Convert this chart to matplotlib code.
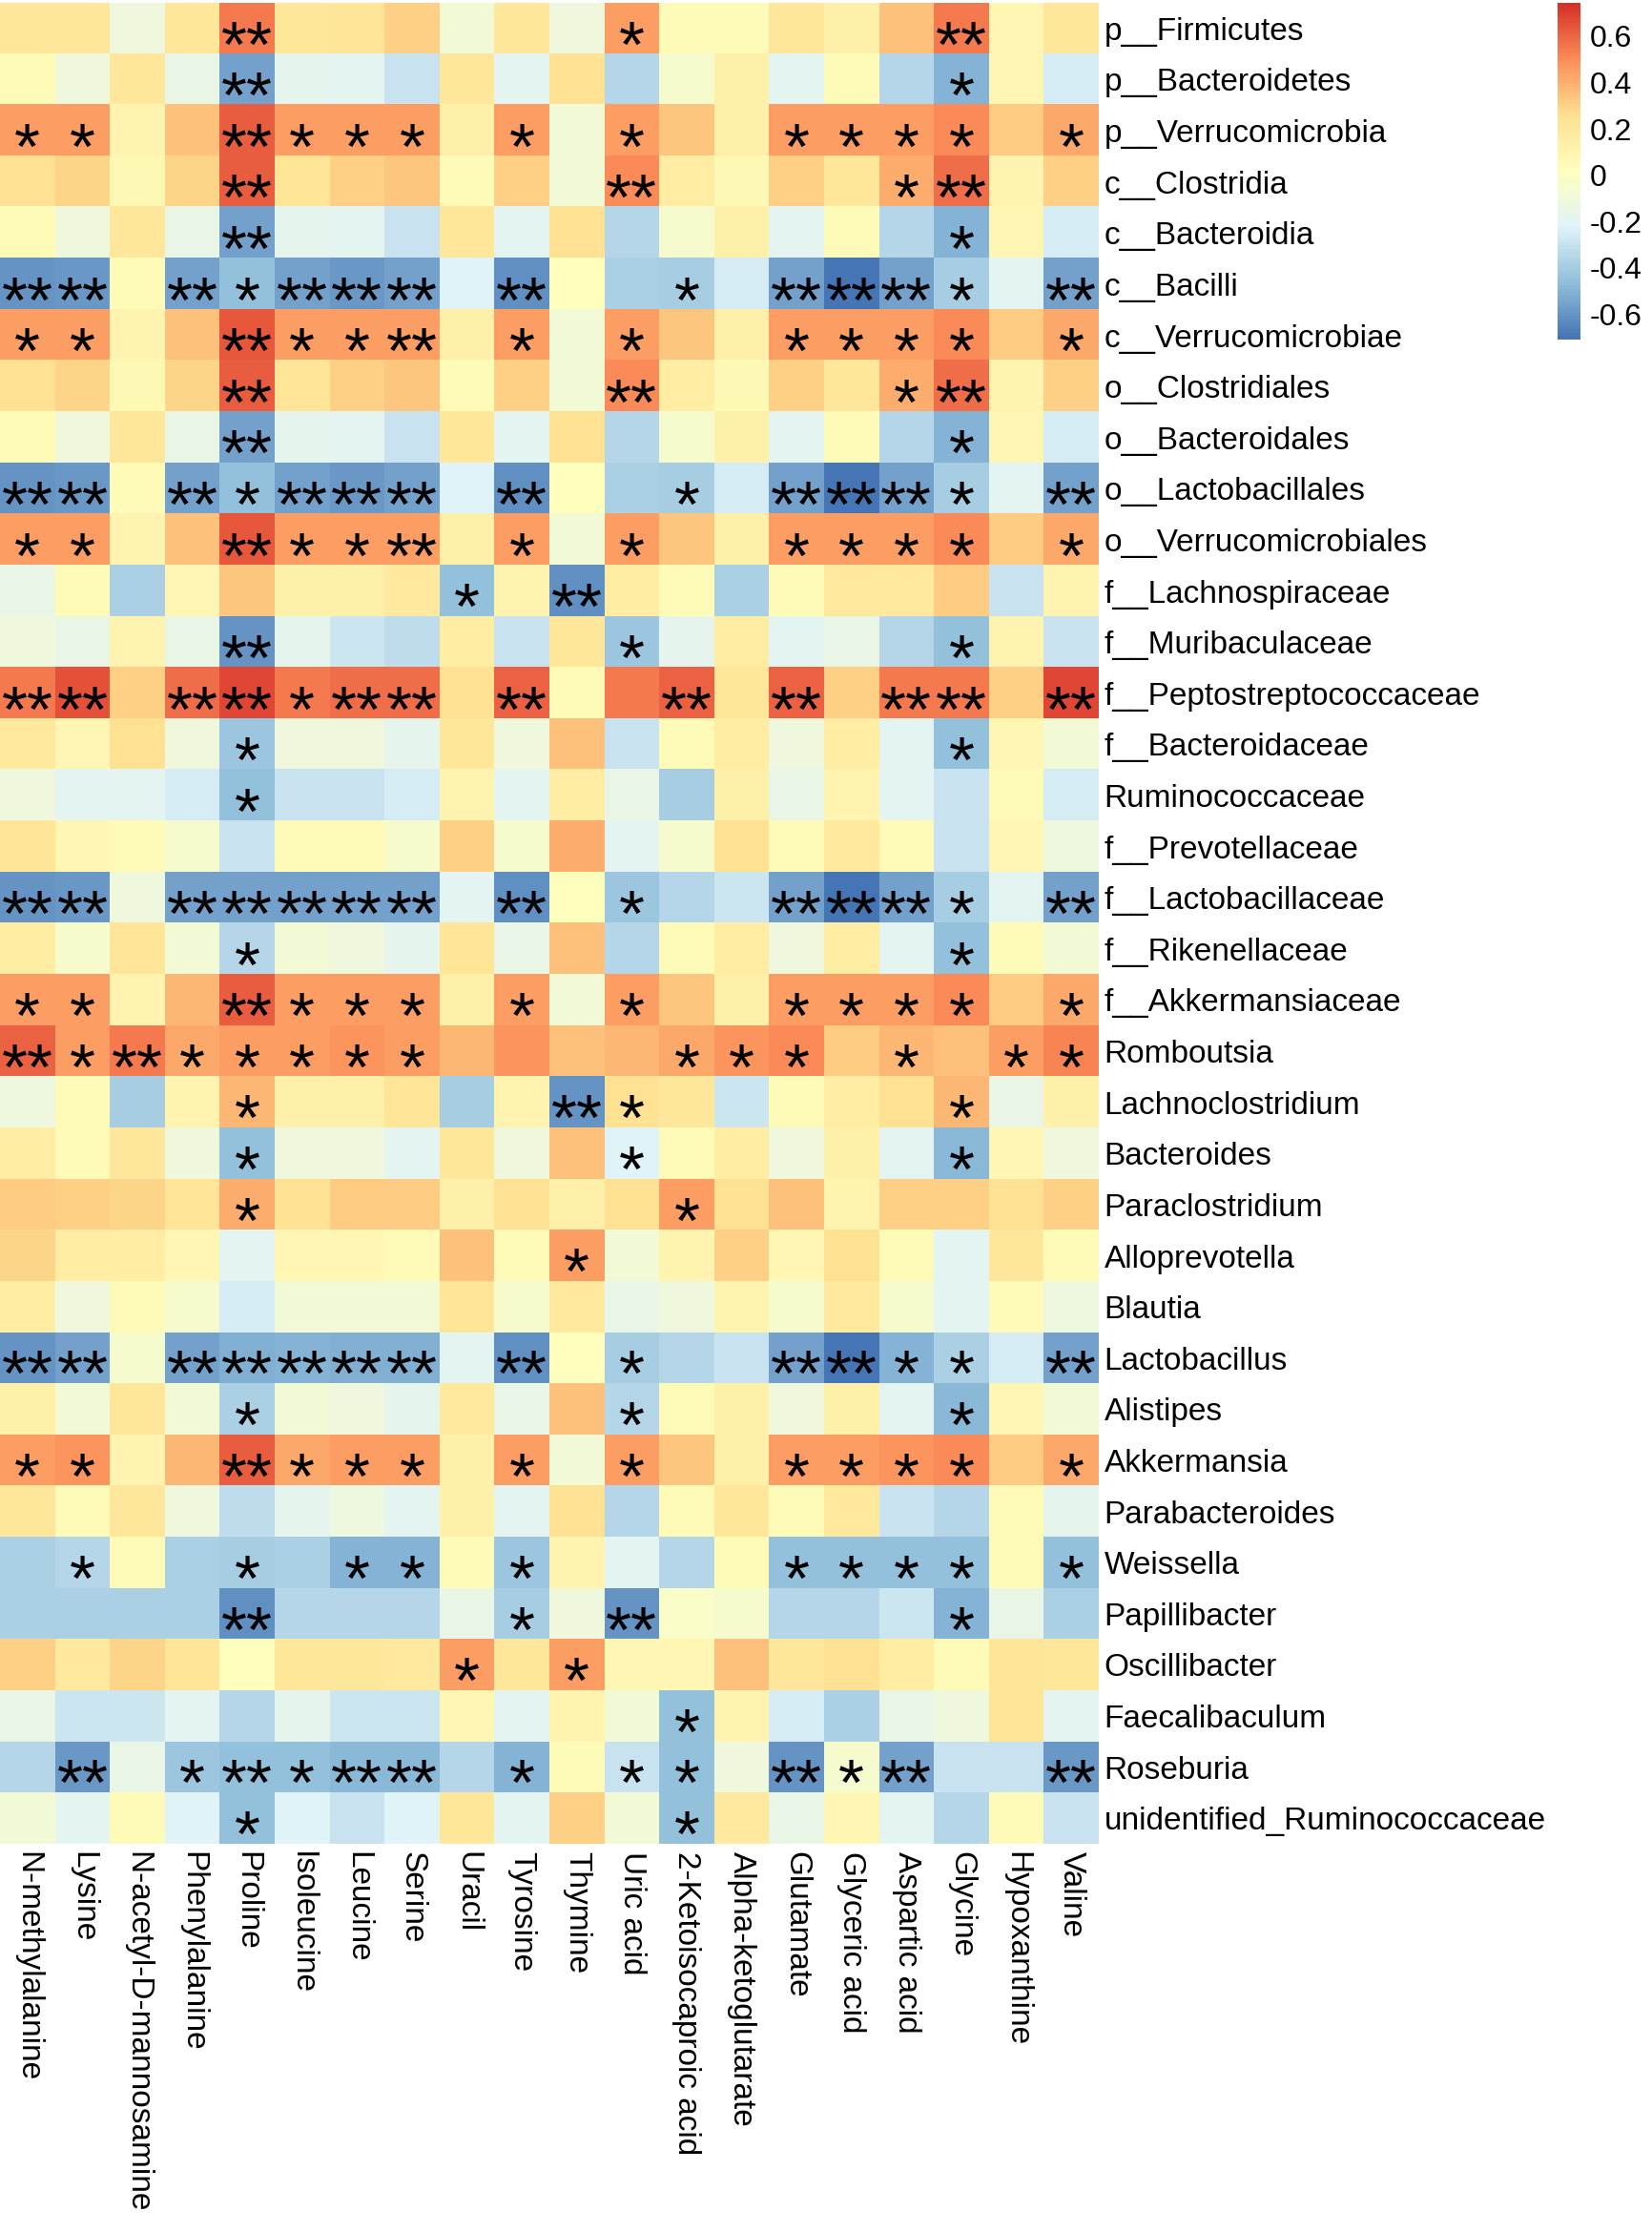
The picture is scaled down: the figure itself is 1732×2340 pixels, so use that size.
import numpy as np
import matplotlib
matplotlib.use("Agg")
import matplotlib.pyplot as plt
from matplotlib.colors import LinearSegmentedColormap
from matplotlib.transforms import offset_copy

plt.rcParams['font.family'] = ['Liberation Sans', 'DejaVu Sans']
plt.rcParams['axes.unicode_minus'] = False

taxa = [
    "p__Firmicutes", "p__Bacteroidetes", "p__Verrucomicrobia", "c__Clostridia",
    "c__Bacteroidia", "c__Bacilli", "c__Verrucomicrobiae", "o__Clostridiales",
    "o__Bacteroidales", "o__Lactobacillales", "o__Verrucomicrobiales",
    "f__Lachnospiraceae", "f__Muribaculaceae", "f__Peptostreptococcaceae",
    "f__Bacteroidaceae", "Ruminococcaceae", "f__Prevotellaceae",
    "f__Lactobacillaceae", "f__Rikenellaceae", "f__Akkermansiaceae",
    "Romboutsia", "Lachnoclostridium", "Bacteroides", "Paraclostridium",
    "Alloprevotella", "Blautia", "Lactobacillus", "Alistipes", "Akkermansia",
    "Parabacteroides", "Weissella", "Papillibacter", "Oscillibacter",
    "Faecalibaculum", "Roseburia", "unidentified_Ruminococcaceae",
]

metabolites = [
    "N-methylalanine", "Lysine", "N-acetyl-D-mannosamine", "Phenylalanine",
    "Proline", "Isoleucine", "Leucine", "Serine", "Uracil", "Tyrosine",
    "Thymine", "Uric acid", "2-Ketoisocaproic acid", "Alpha-ketoglutarate",
    "Glutamate", "Glyceric acid", "Aspartic acid", "Glycine", "Hypoxanthine",
    "Valine",
]

# spearman r, one row per taxon
corr = [
    [0.20, 0.20, -0.10, 0.20, 0.55, 0.20, 0.22, 0.30, -0.08, 0.20, -0.10, 0.45, 0.05, 0.05, 0.20, 0.12, 0.35, 0.55, 0.08, 0.20],
    [0.05, -0.10, 0.20, -0.15, -0.55, -0.18, -0.20, -0.30, 0.20, -0.20, 0.25, -0.35, -0.05, 0.12, -0.20, 0.05, -0.35, -0.50, 0.08, -0.25],
    [0.45, 0.45, 0.10, 0.35, 0.62, 0.45, 0.45, 0.45, 0.12, 0.45, -0.08, 0.45, 0.33, 0.12, 0.45, 0.45, 0.45, 0.50, 0.32, 0.42],
    [0.25, 0.28, 0.07, 0.28, 0.62, 0.22, 0.30, 0.33, 0.05, 0.30, -0.08, 0.50, 0.15, 0.07, 0.30, 0.20, 0.40, 0.58, 0.10, 0.30],
    [0.05, -0.10, 0.20, -0.15, -0.55, -0.18, -0.20, -0.30, 0.20, -0.20, 0.25, -0.35, -0.05, 0.12, -0.20, 0.05, -0.35, -0.50, 0.08, -0.25],
    [-0.60, -0.58, 0.05, -0.55, -0.45, -0.55, -0.58, -0.55, -0.22, -0.62, 0.02, -0.38, -0.40, -0.25, -0.55, -0.70, -0.55, -0.40, -0.20, -0.55],
    [0.45, 0.45, 0.10, 0.35, 0.63, 0.45, 0.45, 0.45, 0.12, 0.45, -0.08, 0.45, 0.33, 0.12, 0.45, 0.45, 0.45, 0.50, 0.32, 0.42],
    [0.25, 0.28, 0.07, 0.28, 0.62, 0.22, 0.30, 0.33, 0.05, 0.30, -0.08, 0.50, 0.15, 0.07, 0.30, 0.20, 0.40, 0.58, 0.10, 0.30],
    [0.05, -0.10, 0.20, -0.15, -0.55, -0.18, -0.20, -0.30, 0.20, -0.20, 0.25, -0.35, -0.05, 0.12, -0.20, 0.05, -0.35, -0.50, 0.08, -0.25],
    [-0.60, -0.58, 0.05, -0.55, -0.45, -0.55, -0.58, -0.55, -0.22, -0.62, 0.02, -0.38, -0.40, -0.25, -0.55, -0.70, -0.55, -0.40, -0.20, -0.55],
    [0.45, 0.45, 0.10, 0.35, 0.63, 0.45, 0.45, 0.45, 0.12, 0.45, -0.08, 0.45, 0.33, 0.12, 0.45, 0.45, 0.45, 0.50, 0.32, 0.42],
    [-0.15, 0.05, -0.38, 0.08, 0.33, 0.12, 0.12, 0.18, -0.45, 0.10, -0.62, 0.15, 0.05, -0.38, 0.05, 0.18, 0.18, 0.32, -0.30, 0.10],
    [-0.10, -0.15, 0.10, -0.15, -0.60, -0.18, -0.28, -0.32, 0.15, -0.30, 0.20, -0.42, -0.18, 0.15, -0.20, -0.15, -0.35, -0.45, 0.10, -0.30],
    [0.55, 0.65, 0.30, 0.58, 0.68, 0.55, 0.58, 0.58, 0.25, 0.60, 0.05, 0.55, 0.60, 0.20, 0.60, 0.30, 0.55, 0.55, 0.30, 0.68],
    [0.18, 0.08, 0.25, -0.10, -0.42, -0.10, -0.10, -0.18, 0.20, -0.10, 0.35, -0.30, 0.05, 0.15, -0.10, 0.15, -0.20, -0.45, 0.08, -0.08],
    [-0.10, -0.20, -0.20, -0.25, -0.45, -0.30, -0.30, -0.25, 0.10, -0.20, 0.15, -0.15, -0.40, 0.12, -0.15, 0.10, -0.20, -0.30, 0.05, -0.25],
    [0.22, 0.08, 0.05, -0.05, -0.30, 0.05, 0.05, -0.05, 0.30, -0.05, 0.40, -0.20, -0.05, 0.25, 0.05, 0.18, 0.05, -0.30, 0.08, -0.12],
    [-0.60, -0.58, -0.10, -0.55, -0.55, -0.55, -0.55, -0.55, -0.20, -0.62, 0.02, -0.42, -0.35, -0.28, -0.55, -0.70, -0.55, -0.40, -0.20, -0.55],
    [0.15, -0.05, 0.22, -0.08, -0.35, -0.08, -0.10, -0.18, 0.22, -0.15, 0.35, -0.35, 0.05, 0.15, -0.10, 0.15, -0.20, -0.45, 0.05, -0.08],
    [0.45, 0.45, 0.10, 0.38, 0.62, 0.45, 0.45, 0.45, 0.12, 0.45, -0.08, 0.45, 0.33, 0.12, 0.45, 0.45, 0.45, 0.50, 0.32, 0.42],
    [0.60, 0.45, 0.55, 0.42, 0.45, 0.45, 0.48, 0.45, 0.38, 0.48, 0.35, 0.38, 0.42, 0.48, 0.50, 0.32, 0.38, 0.35, 0.45, 0.52],
    [-0.12, 0.05, -0.40, 0.10, 0.38, 0.12, 0.12, 0.22, -0.40, 0.10, -0.60, 0.25, 0.20, -0.28, 0.05, 0.15, 0.25, 0.38, -0.15, 0.12],
    [0.15, 0.05, 0.20, -0.10, -0.45, -0.10, -0.10, -0.20, 0.20, -0.10, 0.35, -0.22, 0.05, 0.15, -0.10, 0.12, -0.20, -0.48, 0.08, -0.10],
    [0.32, 0.30, 0.28, 0.22, 0.40, 0.25, 0.32, 0.32, 0.12, 0.25, 0.12, 0.25, 0.45, 0.25, 0.35, 0.10, 0.30, 0.30, 0.25, 0.30],
    [0.28, 0.15, 0.15, 0.08, -0.20, 0.08, 0.08, 0.05, 0.35, 0.05, 0.45, -0.08, 0.10, 0.30, 0.08, 0.25, 0.05, -0.20, 0.20, 0.05],
    [0.15, -0.10, 0.05, -0.05, -0.25, -0.08, -0.08, -0.08, 0.22, -0.05, 0.18, -0.15, -0.10, 0.10, -0.05, 0.18, -0.05, -0.20, 0.05, -0.12],
    [-0.60, -0.55, -0.05, -0.55, -0.52, -0.50, -0.52, -0.52, -0.20, -0.62, 0.02, -0.40, -0.35, -0.30, -0.55, -0.70, -0.50, -0.38, -0.25, -0.55],
    [0.12, -0.08, 0.20, -0.08, -0.38, -0.08, -0.10, -0.18, 0.18, -0.15, 0.35, -0.35, 0.05, 0.12, -0.10, 0.12, -0.20, -0.48, 0.08, -0.08],
    [0.45, 0.48, 0.10, 0.38, 0.62, 0.42, 0.45, 0.45, 0.12, 0.45, -0.08, 0.45, 0.33, 0.12, 0.45, 0.45, 0.48, 0.50, 0.32, 0.42],
    [0.20, 0.05, 0.20, -0.10, -0.32, -0.18, -0.12, -0.20, 0.12, -0.20, 0.25, -0.35, 0.05, 0.20, 0.05, 0.18, -0.30, -0.35, 0.05, -0.18],
    [-0.38, -0.35, 0.05, -0.38, -0.40, -0.38, -0.50, -0.50, 0.05, -0.42, 0.10, -0.20, -0.35, 0.05, -0.45, -0.45, -0.45, -0.45, 0.05, -0.45],
    [-0.38, -0.38, -0.38, -0.38, -0.62, -0.35, -0.35, -0.35, -0.15, -0.40, -0.10, -0.60, -0.02, -0.05, -0.35, -0.35, -0.28, -0.50, -0.15, -0.38],
    [0.30, 0.18, 0.28, 0.22, 0.02, 0.20, 0.20, 0.18, 0.45, 0.20, 0.45, 0.08, 0.08, 0.35, 0.20, 0.25, 0.15, 0.05, 0.22, 0.20],
    [-0.15, -0.28, -0.28, -0.20, -0.35, -0.18, -0.28, -0.28, 0.08, -0.20, 0.10, -0.08, -0.45, 0.10, -0.25, -0.38, -0.15, -0.10, 0.22, -0.20],
    [-0.35, -0.58, -0.15, -0.42, -0.45, -0.45, -0.48, -0.48, -0.35, -0.50, 0.05, -0.30, -0.45, -0.10, -0.60, -0.05, -0.55, -0.30, -0.30, -0.58],
    [-0.08, -0.20, 0.05, -0.22, -0.45, -0.22, -0.30, -0.22, 0.20, -0.20, 0.30, -0.08, -0.45, 0.18, -0.15, 0.08, -0.20, -0.35, 0.06, -0.30],
]

# number of stars per cell: 0 none, 1 = p<0.05, 2 = p<0.01
sig = [
    "00002000000100000200",
    "00002000000000000100",
    "11002111010100111101",
    "00002000000200001200",
    "00002000000000000100",
    "22021222020010222102",
    "11002112010100111101",
    "00002000000200001200",
    "00002000000000000100",
    "22021222020010222102",
    "11002112010100111101",
    "00000000102000000000",
    "00002000000100000100",
    "22022122020020202202",
    "00001000000000000100",
    "00001000000000000000",
    "00000000000000000000",
    "22022222020100222102",
    "00001000000000000100",
    "11002111010100111101",
    "21211111000011101011",
    "00001000002100000100",
    "00001000000100000100",
    "00001000000010000000",
    "00000000001000000000",
    "00000000000000000000",
    "22022222020100221102",
    "00001000000100000100",
    "11002111010100111101",
    "00000000000000000000",
    "01001011010000111101",
    "00002000010200000100",
    "00000000101000000000",
    "00000000000010000000",
    "02012122010110212002",
    "00001000000010000000",
]

palette = ["#4575B4", "#91BFDB", "#E0F3F8", "#FFFFBF", "#FEE090", "#FC8D59", "#D73027"]
cmap = LinearSegmentedColormap.from_list("rdylbu_r", palette, N=100)
vmin, vmax = -0.71, 0.745

fig = plt.figure(figsize=(17.32, 23.4), dpi=100)
ax = fig.add_axes([0.0, 0.1739, 0.6651, 0.8248])

data = np.array(corr)
im = ax.imshow(data, cmap=cmap, vmin=vmin, vmax=vmax, aspect='auto',
               interpolation='nearest')

for s in ax.spines.values():
    s.set_visible(False)

ax.set_yticks(range(len(taxa)))
ax.set_yticklabels(taxa, fontsize=24)
ax.yaxis.tick_right()
ax.set_xticks(range(len(metabolites)))
ax.set_xticklabels(metabolites, fontsize=24, rotation=270)
ax.tick_params(axis='both', length=0)
ax.tick_params(axis='y', pad=4)
ax.tick_params(axis='x', pad=6)

star_size = 50
star_tf = offset_copy(ax.transData, fig=fig, y=-0.57 * star_size, units='points')
for i, row in enumerate(sig):
    for j, ch in enumerate(row):
        n = int(ch)
        if n:
            ax.text(j, i, '*' * n, transform=star_tf, ha='center', va='baseline',
                    fontsize=star_size, color='black')

cax = fig.add_axes([0.9428, 0.8479, 0.01386, 0.1509])
cb = fig.colorbar(im, cax=cax)
cb.outline.set_visible(False)
ticks = [-0.6, -0.4, -0.2, 0, 0.2, 0.4, 0.6]
cb.set_ticks(ticks)
cb.set_ticklabels(["-0.6", "-0.4", "-0.2", "0", "0.2", "0.4", "0.6"])
cb.ax.tick_params(length=0, pad=7, labelsize=23)

fig.savefig("out.png", dpi=100)
